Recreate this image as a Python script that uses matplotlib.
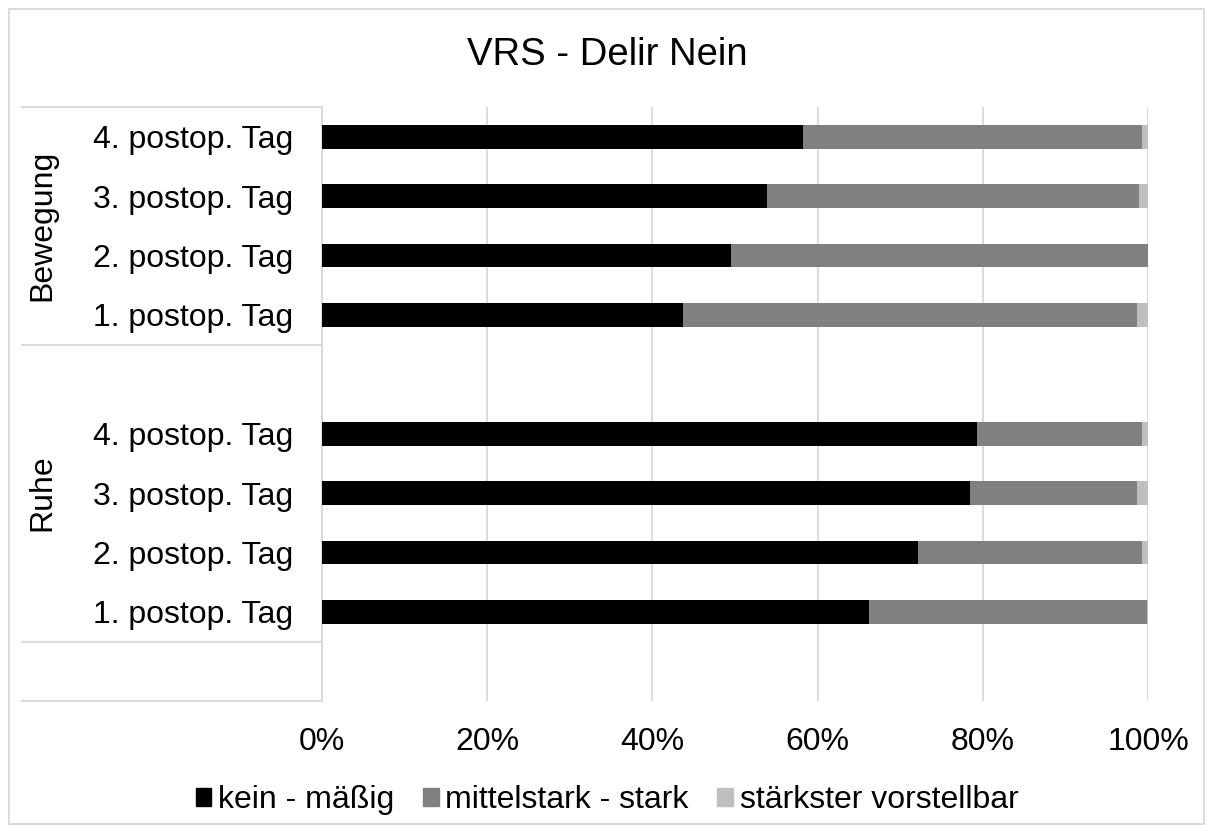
import matplotlib.pyplot as plt
from matplotlib.patches import Patch, Rectangle
import numpy as np

plt.rcParams['font.family'] = ['Liberation Sans', 'DejaVu Sans']

days = ['1. postop. Tag', '2. postop. Tag', '3. postop. Tag', '4. postop. Tag']
groups = ['Ruhe', 'Bewegung']
series = ['kein - mäßig', 'mittelstark - stark', 'stärkster vorstellbar']

# percent values, order: Ruhe 1..4, Bewegung 1..4
kein = [66.2, 72.2, 78.5, 79.3, 43.7, 49.5, 53.9, 58.2]
mittel = [33.7, 27.1, 20.2, 20.0, 55.0, 50.5, 45.0, 41.1]
staerkster = [0.1, 0.7, 1.3, 0.7, 1.3, 0.0, 1.1, 0.7]

colors = ['#000000', '#808080', '#bfbfbf']

# slot positions: 0 empty, 1-4 Ruhe, 5 empty, 6-9 Bewegung
ypos = [1, 2, 3, 4, 6, 7, 8, 9]
ylabels = days + days

W, H = 1214, 834
fig = plt.figure(figsize=(W / 100, H / 100), dpi=100)
ax = fig.add_axes([322 / W, (H - 701) / H, (1148 - 322) / W, (701 - 107) / H])

left = np.zeros(len(ypos))
for vals, c, name in zip([kein, mittel, staerkster], colors, series):
    ax.barh(ypos, vals, left=left, height=0.4, color=c, label=name, zorder=3)
    left += np.array(vals)

ax.set_xlim(0, 100)
ax.set_ylim(-0.5, 9.5)
ax.set_xticks(np.arange(0, 101, 20))
ax.set_xticklabels([f'{v}%' for v in range(0, 101, 20)])
ax.set_yticks(ypos)
ax.set_yticklabels(ylabels)
ax.tick_params(axis='both', length=0, labelsize=23)
ax.tick_params(axis='x', pad=18.5)
ax.tick_params(axis='y', pad=21)
ax.grid(axis='x', color='#d9d9d9', linewidth=1.3, zorder=0)
for s in ['top', 'right', 'bottom']:
    ax.spines[s].set_visible(False)
ax.spines['left'].set_color('#d9d9d9')
ax.spines['left'].set_linewidth(1.3)

# group separators on the category axis
tr = ax.get_yaxis_transform()
x0 = (22 - 322) / (1148 - 322)
for yl in [9.5, 5.5, 0.5, -0.5]:
    ax.plot([x0, 0], [yl, yl], transform=tr, color='#d9d9d9', lw=1.3, clip_on=False)
xg = (42 - 322) / (1148 - 322)
ax.text(xg, 7.5, 'Bewegung', transform=tr, rotation=90, ha='center', va='center', fontsize=23)
ax.text(xg, 3.0, 'Ruhe', transform=tr, rotation=90, ha='center', va='center', fontsize=23)

fig.text(0.5, (H - 55) / H, 'VRS - Delir Nein', ha='center', va='center', fontsize=27.5)

handles = [Patch(color=c, label=n) for c, n in zip(colors, series)]
fig.legend(handles=handles, loc='center', bbox_to_anchor=(0.5, (H - 800) / H), ncol=3,
           frameon=False, fontsize=23, handlelength=0.5, handleheight=0.5,
           handletextpad=0.2, columnspacing=0.9)

fig.patches.append(Rectangle((9 / W, 10 / H), (1204 - 9) / W, (825 - 10) / H,
                             transform=fig.transFigure, fill=False,
                             edgecolor='#d9d9d9', lw=1.3))

fig.savefig('out.png', dpi=100)
